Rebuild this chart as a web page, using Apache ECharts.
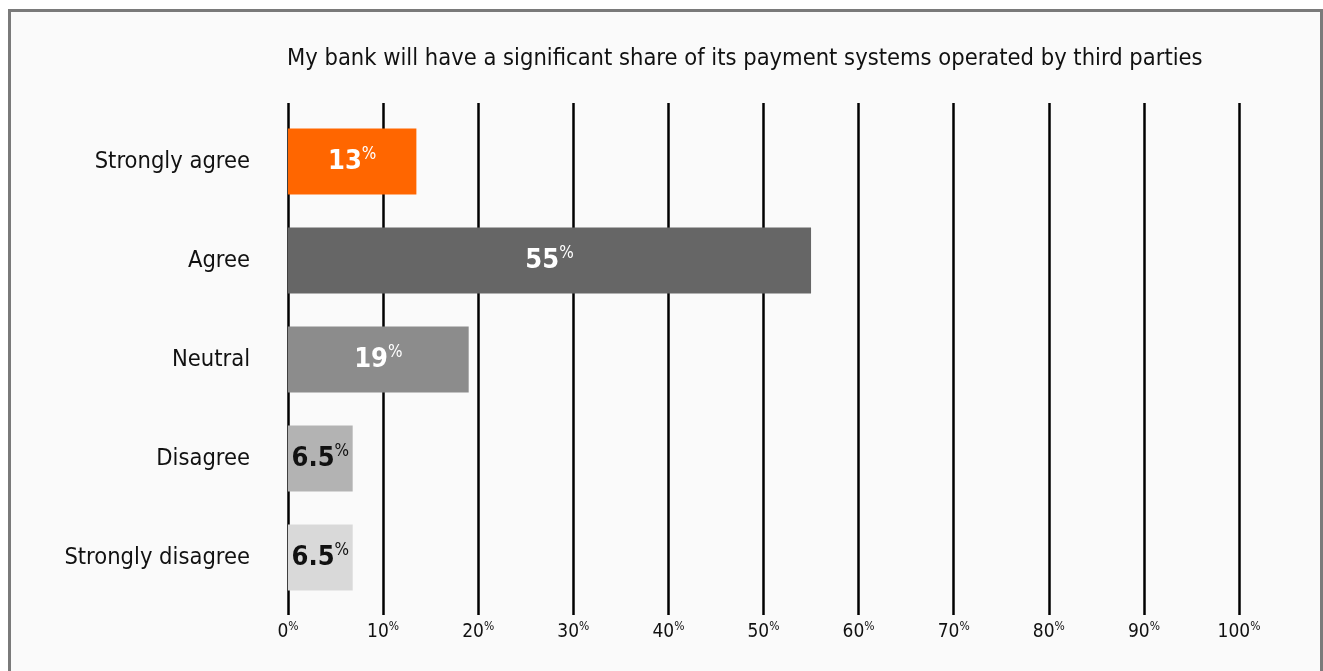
<!DOCTYPE html>
<html>
<head>
<meta charset="utf-8">
<script src="https://cdn.jsdelivr.net/npm/echarts@6/dist/echarts.min.js"></script>
<style>
  html, body { margin: 0; padding: 0; background: #fff; }
  #chart { width: 1323px; height: 671px; }
</style>
</head>
<body>
<div id="chart"></div>
<script>
// data
var categories = ['Strongly agree', 'Agree', 'Neutral', 'Disagree', 'Strongly disagree'];
var barValues = [13.5, 55, 19, 6.8, 6.8];
var barLabels = ['13', '55', '19', '6.5', '6.5'];
var barColors = ['#ff6600', '#666666', '#8c8c8c', '#b3b3b3', '#d9d9d9'];
var labelColors = ['#ffffff', '#ffffff', '#ffffff', '#111111', '#111111'];

var FONT = "'DejaVu Sans Condensed', 'Roboto', sans-serif";

var chart = echarts.init(document.getElementById('chart'));
var option = {
    backgroundColor: '#ffffff',
    animation: false,
    graphic: [
        {
            type: 'rect',
            z: -10,
            shape: { x: 9.5, y: 10.5, width: 1312, height: 700 },
            style: { fill: '#fafafa', stroke: '#7a7a7a', lineWidth: 3 }
        }
    ],
    title: {
        text: 'My bank will have a significant share of its payment systems operated by third parties',
        left: 282,
        top: 42,
        textStyle: {
            fontFamily: FONT,
            fontWeight: 'normal',
            fontSize: 23.5,
            color: '#111'
        }
    },
    grid: [
        { left: 288, right: 84, top: 103, bottom: 56 },
        { left: 288, right: 84, top: 112, height: 495 }
    ],
    xAxis: [
        {
            gridIndex: 0,
            type: 'value',
            min: 0,
            max: 100,
            interval: 10,
            axisLine: { show: false },
            axisTick: { show: false },
            splitLine: { show: true, lineStyle: { color: '#000', width: 2.5 } },
            axisLabel: {
                margin: 6,
                formatter: function (v) { return '{n|' + v + '}{p|%}'; },
                rich: {
                    n: { fontFamily: FONT, fontSize: 19, color: '#111', lineHeight: 22 },
                    p: { fontFamily: FONT, fontSize: 12, color: '#111', verticalAlign: 'top', lineHeight: 22, padding: [0, 0, 6, 0] }
                }
            }
        },
        {
            gridIndex: 1,
            type: 'value',
            min: 0,
            max: 100,
            show: false
        }
    ],
    yAxis: [
        {
            gridIndex: 0,
            type: 'value',
            show: false
        },
        {
            gridIndex: 1,
            type: 'category',
            inverse: true,
            data: categories,
            axisLine: { show: false },
            axisTick: { show: false },
            axisLabel: {
                margin: 38,
                fontFamily: FONT,
                fontSize: 23.5,
                color: '#111'
            }
        }
    ],
    series: [
        {
            type: 'bar',
            xAxisIndex: 1,
            yAxisIndex: 1,
            barCategoryGap: '33.3%',
            data: barValues.map(function (v, i) {
                return {
                    value: v,
                    itemStyle: { color: barColors[i] },
                    label: {
                        color: labelColors[i],
                        rich: {
                            n: { fontFamily: FONT, fontWeight: 'bold', fontSize: 27, color: labelColors[i], lineHeight: 30 },
                            p: { fontFamily: FONT, fontSize: 17, color: labelColors[i], verticalAlign: 'top', lineHeight: 30, padding: [0, 0, 8, 0] }
                        }
                    }
                };
            }),
            label: {
                show: true,
                position: 'inside',
                formatter: function (p) { return '{n|' + barLabels[p.dataIndex] + '}{p|%}'; }
            }
        }
    ]
};
chart.setOption(option);
</script>
</body>
</html>
